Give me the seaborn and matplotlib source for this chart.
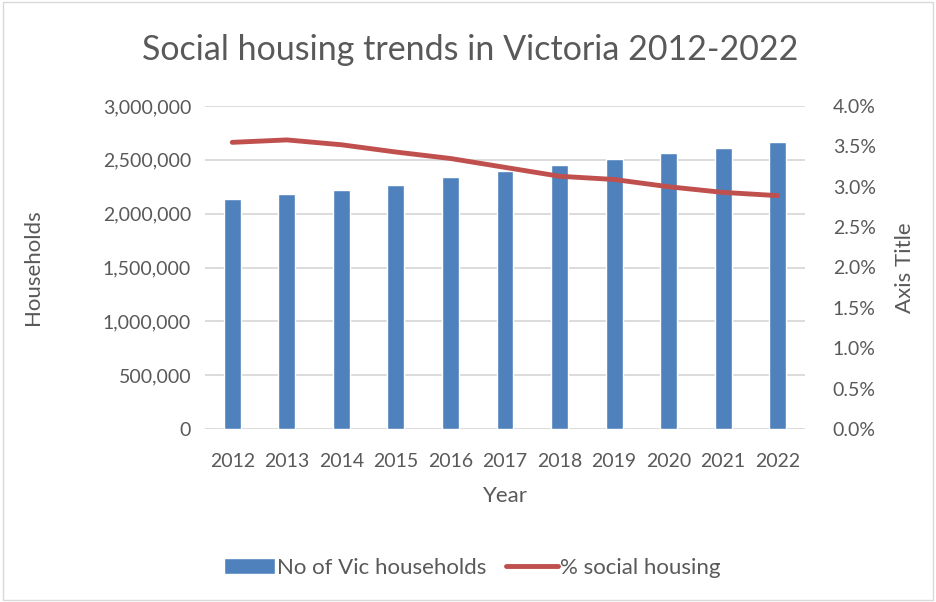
import numpy as np
import pandas as pd
import matplotlib.pyplot as plt
import matplotlib.ticker as mticker
import seaborn as sns

years = ['2012', '2013', '2014', '2015', '2016', '2017', '2018', '2019', '2020', '2021', '2022']
households = [2136000, 2180000, 2220000, 2263000, 2338000, 2396000, 2449000, 2505000, 2561000, 2610000, 2663000]
pct_social = [3.55, 3.58, 3.52, 3.43, 3.35, 3.24, 3.13, 3.09, 3.00, 2.93, 2.89]

grey = '#595959'
bar_col = '#4f81bd'
line_col = '#c0504d'

sns.set_style('white')
plt.rcParams['font.family'] = ['Lato', 'DejaVu Sans']

df = pd.DataFrame({'Year': years, 'Households': households, 'Pct': pct_social})

fig = plt.figure(figsize=(9.36, 6.02), dpi=100)
ax = fig.add_axes([205 / 936, 1 - 429 / 602, 600 / 936, 323 / 602])

sns.barplot(data=df, x='Year', y='Households', color=bar_col, width=0.31,
            saturation=1, ax=ax, label='No of Vic households')
if ax.get_legend() is not None:
    ax.get_legend().remove()
ax.set_ylim(0, 3000000)
ax.yaxis.set_major_locator(mticker.MultipleLocator(500000))
ax.yaxis.set_major_formatter(mticker.FuncFormatter(lambda v, p: f'{int(v):,}'))
ax.grid(axis='y', color='#d9d9d9', linewidth=1.3)
ax.set_axisbelow(True)
for s in ax.spines.values():
    s.set_visible(False)
ax.tick_params(axis='y', length=0, labelsize=14, colors=grey, pad=10)
ax.tick_params(axis='x', length=0, labelsize=14, colors=grey, pad=17)
ax.set_xlabel('Year', fontsize=16, color=grey, labelpad=12)
ax.set_ylabel('Households', fontsize=16, color=grey)
ax.yaxis.set_label_coords(-162 / 600, 0.5)

ax2 = ax.twinx()
sns.lineplot(x=np.arange(len(years)), y=df['Pct'], color=line_col, linewidth=3.5,
             ax=ax2, label='% social housing', legend=False, solid_capstyle='round')
ax2.set_ylim(0, 4)
ax2.yaxis.set_major_locator(mticker.MultipleLocator(0.5))
ax2.yaxis.set_major_formatter(mticker.FuncFormatter(lambda v, p: f'{v:.1f}%'))
for s in ax2.spines.values():
    s.set_visible(False)
ax2.tick_params(axis='y', length=0, labelsize=14, colors=grey, pad=20)
ax2.set_ylabel('Axis Title', fontsize=16, color=grey)
ax2.yaxis.set_label_coords(1 + 90 / 600, 0.5)
ax.set_xlim(-0.5, len(years) - 0.5)

fig.text(0.5 + 2 / 936, 1 - 50 / 602, 'Social housing trends in Victoria 2012-2022', ha='center', va='center',
         fontsize=24.5, color=grey)

h1, l1 = ax.get_legend_handles_labels()
h2, l2 = ax2.get_legend_handles_labels()
fig.legend(h1 + h2, l1 + l2, loc='center', bbox_to_anchor=(472 / 936, 1 - 568 / 602), ncol=2,
           frameon=False, fontsize=16, labelcolor=grey, handlelength=2.3, columnspacing=0.9,
           handletextpad=0.1)

fig.patches.append(plt.Rectangle((0.003, 0.003), 0.994, 0.994, transform=fig.transFigure,
                                 fill=False, edgecolor='#d9d9d9', linewidth=1))

fig.savefig('out.png', dpi=100)
